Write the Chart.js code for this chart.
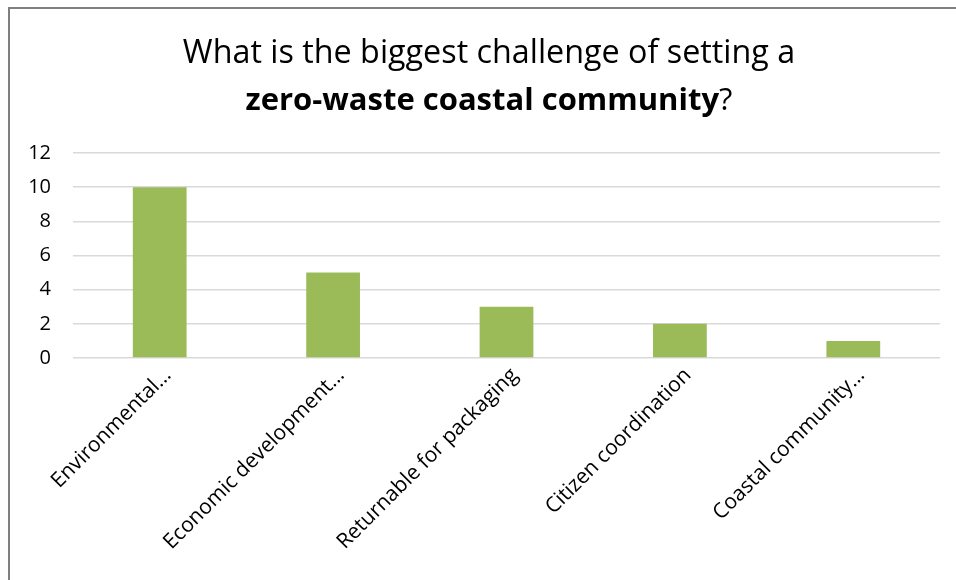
<!DOCTYPE html>
<html>
<head>
<meta charset="utf-8">
<script src="https://cdn.jsdelivr.net/npm/chart.js@4/dist/chart.umd.min.js"></script>
<style>
  html, body { margin: 0; padding: 0; background: #fff; overflow: hidden; }
  .frame {
    position: absolute; left: 8px; top: 7px;
    width: 1000px; height: 1000px;
    border: 2px solid #7f7f7f;
  }
  #chart { position: absolute; left: 0; top: 0; }
</style>
</head>
<body>
<div class="frame"></div>
<canvas id="chart" width="956" height="580"></canvas>
<script>
const categories = [
  "Environmental…",
  "Economic development…",
  "Returnable for packaging",
  "Citizen coordination",
  "Coastal community…",
];
const answers = [10, 5, 3, 2, 1];
const yTicks = [0, 2, 4, 6, 8, 10, 12];

const titleLine1 = "What is the biggest challenge of setting a";
const titleBold = "zero-waste coastal community";
const titleTail = "?";

const FONT = "'Open Sans', sans-serif";

// titre sur deux lignes, la deuxième en partie en gras
const mixedTitle = {
  id: "mixedTitle",
  afterDraw: (chart) => {
    const ctx = chart.ctx;
    const cx = 489;
    ctx.save();
    ctx.fillStyle = "#000";
    ctx.textBaseline = "alphabetic";
    ctx.textAlign = "left";

    ctx.font = "32.3px " + FONT;
    const w1 = ctx.measureText(titleLine1).width;
    ctx.fillText(titleLine1, cx - w1 / 2, 63);

    ctx.font = "bold 31px " + FONT;
    const wb = ctx.measureText(titleBold).width;
    ctx.font = "31px " + FONT;
    const wt = ctx.measureText(titleTail).width;
    const x0 = cx - (wb + wt) / 2;
    ctx.font = "bold 31px " + FONT;
    ctx.fillText(titleBold, x0, 110);
    ctx.font = "31px " + FONT;
    ctx.fillText(titleTail, x0 + wb, 110);
    ctx.restore();
  },
};

new Chart(document.getElementById("chart").getContext("2d"), {
  type: "bar",
  data: {
    labels: categories,
    datasets: [
      {
        data: answers,
        backgroundColor: "#9bbb59",
        borderWidth: 0,
        barPercentage: 0.31,
        categoryPercentage: 1,
      },
    ],
  },
  options: {
    responsive: false,
    animation: false,
    layout: { padding: { top: 153, right: 16, left: 0, bottom: 0 } },
    plugins: {
      legend: { display: false },
      tooltip: { enabled: false },
    },
    scales: {
      x: {
        grid: { display: false },
        border: { display: false },
        ticks: {
          color: "#000",
          font: { family: FONT, size: 21 },
          minRotation: 45,
          maxRotation: 45,
          autoSkip: false,
          padding: -3,
          labelOffset: 8,
        },
        afterFit: (scale) => {
          scale.height = 222;
        },
      },
      y: {
        min: 0,
        max: 12,
        afterBuildTicks: (scale) => {
          scale.ticks = yTicks.map((v) => ({ value: v }));
        },
        grid: { color: "#d9d9d9", lineWidth: 1.5, drawTicks: false },
        border: { display: false },
        ticks: {
          color: "#000",
          font: { family: FONT, size: 20 },
          padding: 22,
        },
        afterFit: (scale) => {
          scale.width = 73;
        },
      },
    },
  },
  plugins: [mixedTitle],
});
</script>
</body>
</html>
